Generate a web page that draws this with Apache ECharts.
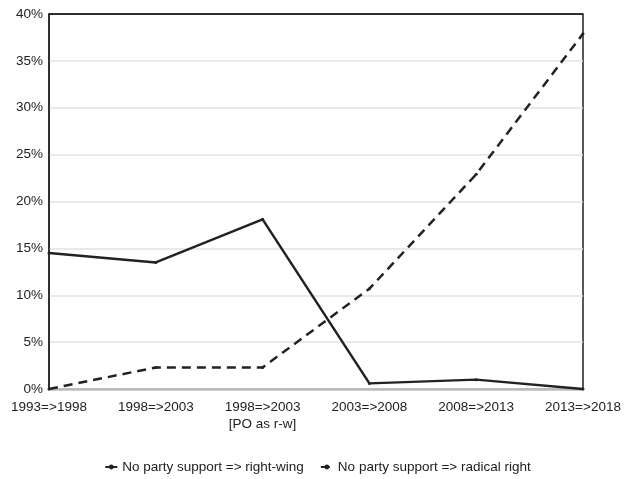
<!DOCTYPE html>
<html>
<head>
<meta charset="utf-8">
<script src="https://cdn.jsdelivr.net/npm/echarts@6/dist/echarts.min.js"></script>
<style>
html,body{margin:0;padding:0;background:#fff;}
#chart{width:635px;height:479px;}
</style>
</head>
<body>
<div id="chart"></div>
<script>
var categories = ['1993=>1998', '1998=>2003', '1998=>2003\n[PO as r-w]', '2003=>2008', '2008=>2013', '2013=>2018'];
var seriesNames = ['No party support => right-wing', 'No party support => radical right'];
var rightWing = [14.5, 13.5, 18.1, 0.6, 1.0, 0.0];
var radicalRight = [0.0, 2.3, 2.3, 10.7, 22.9, 37.9];
var yTicks = { min: 0, max: 40, interval: 5 };

var chart = echarts.init(document.getElementById('chart'), null, { renderer: 'canvas' });
var fontFamily = 'Liberation Sans, Arial, sans-serif';
var gridColors = ['#e2e2e2', '#e2e2e2', '#e2e2e2', '#e2e2e2', '#e2e2e2', '#e2e2e2', '#e2e2e2', '#e2e2e2', '#222222'];
chart.setOption({
  animation: false,
  backgroundColor: '#ffffff',
  textStyle: { fontFamily: fontFamily },
  grid: { left: 49, right: 52, top: 14, bottom: 90, containLabel: false,
          show: true, borderColor: '#222', borderWidth: 1.5, backgroundColor: 'transparent' },
  legend: {
    top: 455,
    left: 'center',
    itemWidth: 12,
    itemHeight: 6,
    itemGap: 16,
    textStyle: { fontSize: 13.5, color: '#222', fontFamily: fontFamily },
    data: seriesNames
  },
  xAxis: [{
    type: 'category',
    data: categories,
    boundaryGap: false,
    z: 3,
    axisLine: { show: true, lineStyle: { color: '#bbbbbb', width: 2.5 } },
    axisTick: { show: false },
    splitLine: { show: false },
    axisLabel: { color: '#222', fontSize: 13.5, margin: 10, lineHeight: 17, fontFamily: fontFamily, interval: 0 }
  }],
  yAxis: [{
    type: 'value',
    min: yTicks.min,
    max: yTicks.max,
    interval: yTicks.interval,
    axisLine: { show: true, lineStyle: { color: '#222', width: 1.5 } },
    axisTick: { show: false },
    splitLine: { show: true, lineStyle: { color: gridColors, width: 1.5 } },
    axisLabel: { color: '#222', fontSize: 13.5, margin: 6, formatter: '{value}%', fontFamily: fontFamily }
  }],
  series: [{
    name: seriesNames[0],
    type: 'line',
    data: rightWing,
    symbol: 'circle',
    symbolSize: 3,
    z: 5,
    itemStyle: { color: '#222' },
    lineStyle: { color: '#222', width: 2.5, type: 'solid' }
  }, {
    name: seriesNames[1],
    type: 'line',
    data: radicalRight,
    symbol: 'circle',
    symbolSize: 3,
    z: 5,
    itemStyle: { color: '#222' },
    lineStyle: { color: '#222', width: 2.5, type: [9, 6] }
  }]
});
</script>
</body>
</html>
